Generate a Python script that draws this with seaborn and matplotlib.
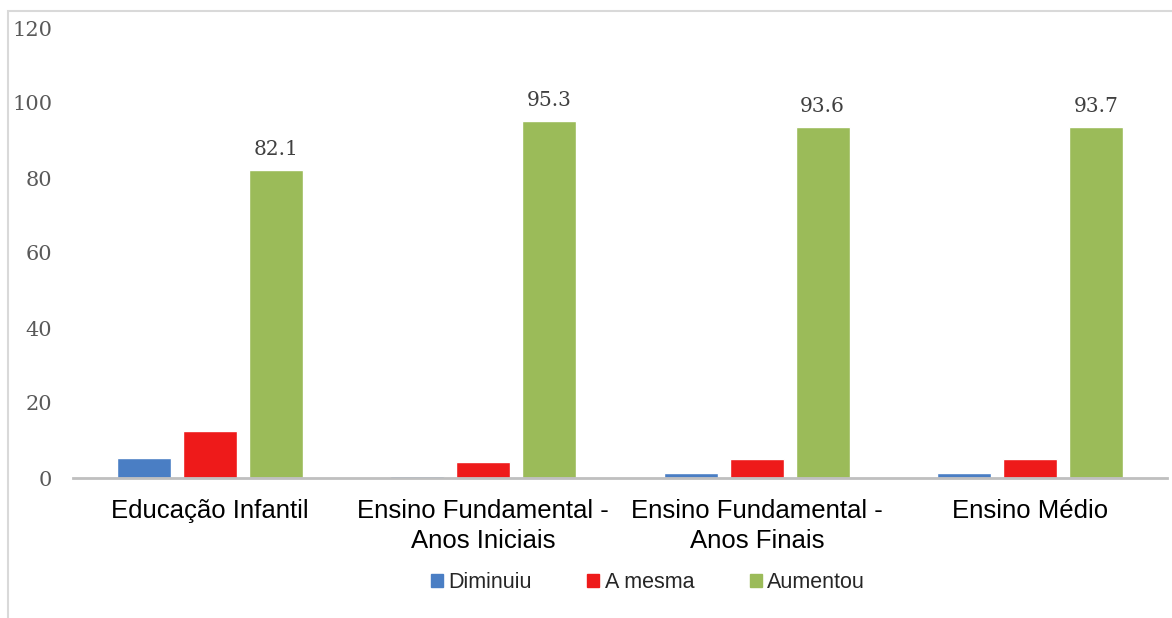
import numpy as np
import pandas as pd
import seaborn as sns
import matplotlib.pyplot as plt
from matplotlib.patches import Rectangle

# data
etapas = ["Educação Infantil", "Ensino Fundamental -\nAnos Iniciais",
          "Ensino Fundamental -\nAnos Finais", "Ensino Médio"]
diminuiu = [5.3, 0.5, 1.4, 1.3]
a_mesma = [12.6, 4.2, 5.0, 5.0]
aumentou = [82.1, 95.3, 93.6, 93.7]
series = ["Diminuiu", "A mesma", "Aumentou"]
cores = ["#4A7EC4", "#EE1A1A", "#9BBB59"]

df = pd.DataFrame({
    "etapa": etapas * 3,
    "serie": [series[0]] * 4 + [series[1]] * 4 + [series[2]] * 4,
    "valor": diminuiu + a_mesma + aumentou,
})

sns.set_theme(style="white")
plt.rcParams['font.family'] = ['Liberation Sans', 'DejaVu Sans']

fig = plt.figure(figsize=(11.72, 6.18), dpi=100)
ax = fig.add_axes([73 / 1172, 1 - 478 / 618, (1167 - 73) / 1172, (478 - 28) / 618])

sns.barplot(data=df, x="etapa", y="valor", hue="serie", hue_order=series,
            palette=cores, width=0.723, gap=0.18, saturation=1,
            ax=ax, legend=False)

ax.set_ylim(0, 120)
ax.set_xlim(-0.5, 3.5)
ax.set_yticks(range(0, 121, 20))
ax.set_xlabel("")
ax.set_ylabel("")
for s in ["top", "right", "left"]:
    ax.spines[s].set_visible(False)
ax.spines["bottom"].set_color("#BFBFBF")
ax.spines["bottom"].set_linewidth(2)
ax.tick_params(axis="y", length=0, pad=15, labelsize=15, labelcolor="#595959")
ax.tick_params(axis="x", length=0, pad=15, labelsize=18.5, labelcolor="#000000")
for lab in ax.get_yticklabels():
    lab.set_family("DejaVu Serif")
for lab in ax.get_xticklabels():
    lab.set_linespacing(1.3)

# value labels only on the "Aumentou" bars
for c in ax.containers[2:]:
    ax.bar_label(c, labels=[f"{v:.1f}" for v in aumentou], padding=8,
                 fontsize=14.5, color="#404040", family="DejaVu Serif")

# legend under the chart
handles = [plt.Rectangle((0, 0), 1, 1, color=c) for c in cores]
fig.legend(handles, series, loc="center", bbox_to_anchor=(648 / 1172, 1 - 583 / 618),
           ncol=3, frameon=False, fontsize=15.5, handlelength=0.55, handleheight=0.55,
           handletextpad=0.25, columnspacing=2.6)

# light border of the chart area
fig.patches.append(Rectangle((8 / 1172, -0.05), 1.1, 1 - 11 / 618 + 0.05,
                             transform=fig.transFigure, fill=False,
                             edgecolor="#D9D9D9", linewidth=1.5, clip_on=False))

fig.savefig("out.png", dpi=100)
